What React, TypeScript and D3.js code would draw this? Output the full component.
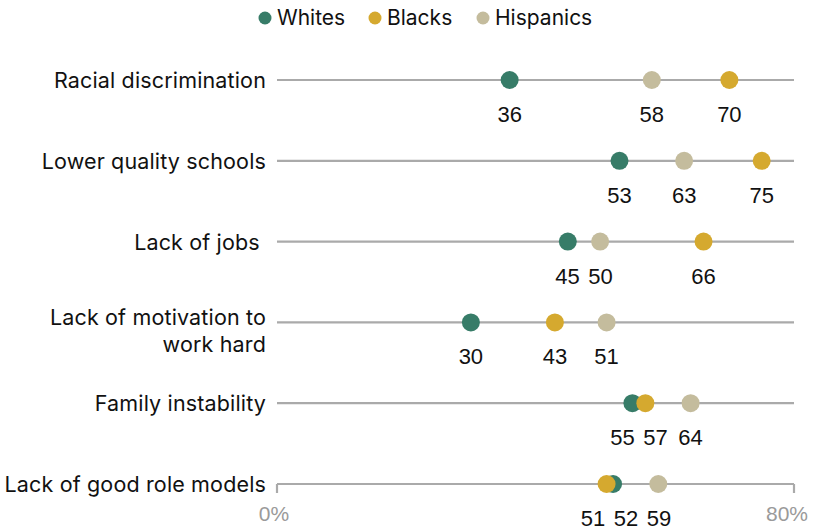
import React from "react";
import * as d3 from "d3";

const categories = [
  ["Racial discrimination"],
  ["Lower quality schools"],
  ["Lack of jobs\u00a0"],
  ["Lack of motivation to", "work hard"],
  ["Family instability"],
  ["Lack of good role models"],
];
const whites = [36, 53, 45, 30, 55, 52];
const blacks = [70, 75, 66, 43, 57, 51];
const hispanics = [58, 63, 50, 51, 64, 59];
const axisTicks = [0, 80];

const series = [
  { name: "Whites", values: whites, color: "#377c68" },
  { name: "Blacks", values: blacks, color: "#d5a92f" },
  { name: "Hispanics", values: hispanics, color: "#c4bc9d" },
];

const NUMFONT = "'Liberation Sans', Arial, sans-serif";
const TXTFONT = "Inter, 'Liberation Sans', Arial, sans-serif";

function spread(xs: number[], gap: number): number[] {
  const order = xs.map((v, i) => i).sort((a, b) => xs[a] - xs[b]);
  const pos = order.map((i) => xs[i]);
  for (let it = 0; it < 50; it++) {
    let moved = false;
    for (let k = 0; k < pos.length - 1; k++) {
      const d = pos[k + 1] - pos[k];
      if (d < gap - 0.01) {
        const push = (gap - d) / 2;
        pos[k] -= push;
        pos[k + 1] += push;
        moved = true;
      }
    }
    if (!moved) break;
  }
  const out = new Array(xs.length);
  order.forEach((i, k) => (out[i] = pos[k] - (moved(xs, pos) ? 0 : 0)));
  return out;
}
function moved(_a: number[], _b: number[]) { return false; }

export default function App() {
  const W = 825, H = 529;
  const x = d3.scaleLinear().domain([0, 80]).range([277, 794]);
  const idx = categories.map((_, i) => i);
  const y = d3.scalePoint<number>().domain(idx).range([80, 484]);
  const legendX = [265, 375, 483];
  return (
    <svg width={W} height={H} style={{ position: "absolute", left: 0, top: 0, background: "#fff" }} fontFamily={NUMFONT}>
      {series.map((s, i) => (
        <g key={s.name}>
          <circle cx={legendX[i]} cy={18} r={6.5} fill={s.color} />
          <text x={legendX[i] + 12} y={25} fontSize={21} fontFamily={TXTFONT} fill="#111">{s.name}</text>
        </g>
      ))}
      {idx.map((i) => {
        const yy = y(i)!;
        const lines = categories[i];
        const lx = spread(series.map((s) => x(s.values[i])), 33);
        return (
          <g key={i}>
            <line x1={x(0)} x2={x(80)} y1={yy} y2={yy} stroke="#aaaaaa" strokeWidth={2.2} />
            {lines.map((t, j) => (
              <text key={j} x={266} y={lines.length === 1 ? yy + 8 : yy + 3 + j * 27} textAnchor="end" fontSize={21.5} letterSpacing={0.15} fontFamily={TXTFONT} fill="#111" style={{ whiteSpace: "pre" }}>{t}</text>
            ))}
            {series.map((s) => (
              <circle key={s.name} cx={x(s.values[i])} cy={yy} r={9} fill={s.color} />
            ))}
            {series.map((s, k) => (
              <text key={s.name + "l"} x={lx[k]} y={i === 5 ? yy + 42 : yy + 42} textAnchor="middle" fontSize={22} fill="#111">{s.values[i]}</text>
            ))}
          </g>
        );
      })}
      {axisTicks.map((t) => (
        <g key={t}>
          <line x1={x(t)} x2={x(t)} y1={y(5)!} y2={y(5)! + 9} stroke="#aaaaaa" strokeWidth={2.2} />
          <text x={x(t) - (t === 0 ? 3 : 7)} y={521} textAnchor="middle" fontSize={21} fill="#9a9a9a">{t}%</text>
        </g>
      ))}
    </svg>
  );
}
